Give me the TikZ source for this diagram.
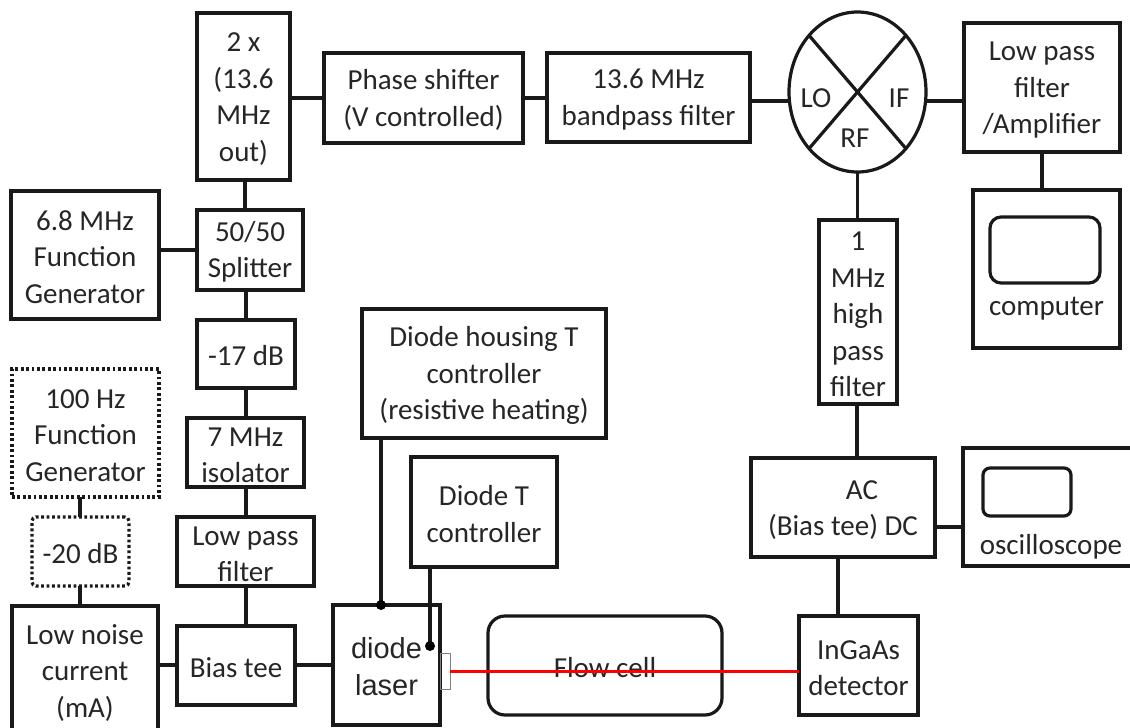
\documentclass[tikz,border=0pt]{standalone}
\usepackage{fontspec}
\setmainfont{Carlito}
\newfontfamily\arialfont{Liberation Sans}
\usetikzlibrary{calc,shapes.geometric}
\newcommand{\bx}[7][]{%
  \pgfmathsetmacro{\cxx}{(#3+#5)/2}\pgfmathsetmacro{\cyy}{(#4+#6)/2}%
  \pgfmathsetmacro{\wdd}{#5-#3}\pgfmathsetmacro{\htt}{#6-#4}%
  \node[blockbox,minimum width=\wdd pt,minimum height=\htt pt,#1] (#2) at (\cxx,\cyy) {\\[-12.5pt]#7};}
\tikzset{
  blockbox/.style={draw=black!90,line width=3.2pt,inner sep=0pt,outer sep=0pt,align=center,text=black!85,
    font=\fontsize{29}{36.5}\selectfont},
  dottedbox/.style={dash pattern=on 2.8pt off 2.6pt},
  wire/.style={draw=black!90,line width=3.2pt},
  dotend/.style={fill=black,circle,inner sep=0pt,minimum size=10pt},
  portlabel/.style={text=black!85,font=\fontsize{29}{36.5}\selectfont,inner sep=0pt},
}
\begin{document}
\begin{tikzpicture}[x=1pt,y=-1pt]
\clip (0,0) rectangle (1130,728);
\fill[white] (0,0) rectangle (1130,728);
\bx{twox}{197}{13}{290}{180}{2 x\\(13.6\\MHz\\out)}
\bx{phase}{324}{53}{523}{143}{Phase shifter\\(V controlled)}
\bx{band}{547}{53}{750}{142}{13.6 MHz\\bandpass filter}
\node[draw=black!90,line width=3.2pt,ellipse,minimum width=137pt,minimum height=160pt,inner sep=0pt,outer sep=0pt] (mixer) at (857.5,92) {};
\node[portlabel] (lolab) at (816,98) {LO};
\node[portlabel] (iflab) at (899,98) {IF};
\node[portlabel] (rflab) at (855,138) {RF};
\draw[wire] (mixer.north west) -- (mixer.south east);
\draw[wire] (mixer.north east) -- (mixer.south west);
\bx{lpamp}{964}{23}{1120}{152}{Low pass\\filter\\/Amplifier}
\bx{computer}{973}{190}{1120}{348}{\\[38pt]computer}
\bx[rounded corners=11pt]{compscreen}{990}{217}{1100}{283}{}
\bx{fgsix}{11}{191}{159}{319}{6.8 MHz\\Function\\Generator}
\bx{split}{197}{210}{303}{290}{50/50\\Splitter}
\bx{atten}{197}{320}{295}{388}{-17 dB}
\bx{iso}{187}{418}{304}{487}{7 MHz\\isolator}
\bx{lowpass}{177}{517}{314}{586}{Low pass\\filter}
\bx{biastee}{177}{626}{295}{705}{Bias tee}
\bx{lownoise}{12}{606}{158}{736}{Low noise\\current\\(mA)}
\bx[dottedbox]{fghund}{12}{369}{159}{497}{100 Hz\\Function\\Generator}
\bx[dottedbox,rounded corners=4pt]{attentwo}{32}{517}{129}{586}{-20 dB}
\bx{housing}{362}{309}{606}{438}{Diode housing T\\controller\\(resistive heating)}
\bx{tctrl}{411}{457}{557}{567}{Diode T\\controller}
\bx[font=\arialfont\fontsize{29}{37}\selectfont]{laser}{333}{605}{440}{725}{diode\\laser}
\node[draw=gray,line width=1pt,minimum width=10pt,minimum height=36pt,inner sep=0pt,outer sep=0pt,anchor=north west] (window) at (440,653) {};
\bx[rounded corners=17pt]{flow}{488}{616}{722}{715}{Flow cell}
\bx{detector}{799}{616}{918}{715}{InGaAs\\detector}
\bx{acdc}{751}{458}{935}{557}{\hspace*{38pt}AC\\(Bias tee) DC}
\bx{scope}{963}{448}{1145}{566}{\\[39pt]\hspace*{-6pt}oscilloscope}
\bx[rounded corners=7pt]{scopescreen}{983}{468}{1071}{516}{}
\bx{highpass}{819}{220}{897}{404}{1\\MHz\\high\\pass\\filter}
% connectors
\draw[wire] (twox.east |- 0,98) -- (phase.west |- 0,98);
\draw[wire] (phase.east |- 0,98) -- (band.west |- 0,98);
\draw[wire] (band.east |- 0,101) -- (mixer.west |- 0,101);
\draw[wire] (mixer.east |- 0,101) -- (lpamp.west |- 0,101);
\draw[wire] (lpamp.south -| 1042,0) -- (computer.north -| 1042,0);
\draw[wire] (mixer.south) -- (highpass.north -| mixer.south);
\draw[wire] (highpass.south -| 857,0) -- (acdc.north -| 857,0);
\draw[wire] (acdc.east |- 0,527) -- (scope.west |- 0,527);
\draw[wire] (acdc.south -| 838,0) -- (detector.north -| 838,0);
\draw[wire] (twox.south -| 245,0) -- (split.north -| 245,0);
\draw[wire] (fgsix.east |- 0,250) -- (split.west |- 0,250);
\draw[wire] (split.south -| 246,0) -- (atten.north -| 246,0);
\draw[wire] (atten.south -| 246,0) -- (iso.north -| 246,0);
\draw[wire] (iso.south -| 246,0) -- (lowpass.north -| 246,0);
\draw[wire] (lowpass.south -| 246,0) -- (biastee.north -| 246,0);
\draw[wire] (biastee.east |- 0,665) -- (laser.west |- 0,665);
\draw[wire] (lownoise.east |- 0,665) -- (biastee.west |- 0,665);
\draw[wire] (fghund.south -| 80,0) -- (attentwo.north -| 80,0);
\draw[wire] (attentwo.south -| 80,0) -- (lownoise.north -| 80,0);
\coordinate (hdot) at (381,605);
\coordinate (tdot) at (430,646);
\draw[wire] (housing.south -| hdot) -- (hdot);
\draw[wire] (tctrl.south -| tdot) -- (tdot);
\node[dotend] (hdotn) at (hdot) {};
\node[dotend] (tdotn) at (tdot) {};
\draw[red,line width=3pt] (window.east |- 0,671) -- (detector.west |- 0,671);
\end{tikzpicture}
\end{document}
